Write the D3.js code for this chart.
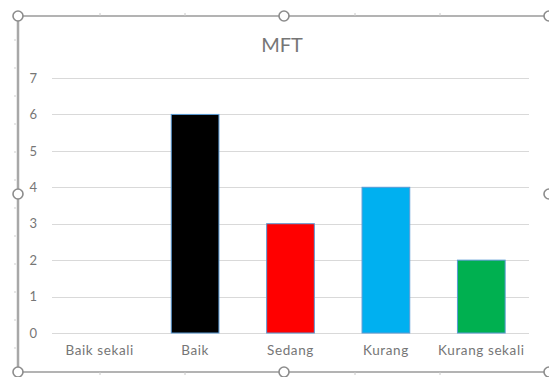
<!DOCTYPE html>
<html>
<head>
<meta charset="utf-8">
<script src="https://cdn.jsdelivr.net/npm/d3@7"></script>
<style>
  html, body { margin: 0; padding: 0; background: #fff; }
  svg { display: block; }
</style>
</head>
<body>
<svg id="chart" width="549" height="377"></svg>
<script>
// Chart data
const categories = ["Baik sekali", "Baik", "Sedang", "Kurang", "Kurang sekali"];
const values = [0, 6, 3, 4, 2];
const barColors = ["#4472c4", "#000000", "#ff0000", "#00b0f0", "#00b050"];
const yTicks = [0, 1, 2, 3, 4, 5, 6, 7];
const title = "MFT";

const svg = d3.select("#chart");
const W = 549, H = 377;
const font = "Lato, Carlito, 'Open Sans', sans-serif";
const textColor = "#767676";

// Plot area
const plot = { left: 52, right: 529, top: 78, bottom: 333 };

const x = d3.scaleBand()
  .domain(categories)
  .range([plot.left, plot.right])
  .paddingInner(0.5)
  .paddingOuter(0.25);

const y = d3.scaleLinear()
  .domain([0, 7])
  .range([plot.bottom, plot.top]);

// Gridlines
svg.append("g")
  .selectAll("line")
  .data(yTicks)
  .join("line")
  .attr("x1", plot.left)
  .attr("x2", plot.right)
  .attr("y1", d => Math.round(y(d)) + 0.5)
  .attr("y2", d => Math.round(y(d)) + 0.5)
  .attr("stroke", "#d9d9d9")
  .attr("stroke-width", 1);

// Y axis labels
const yAxis = d3.axisLeft(y).tickValues(yTicks).tickFormat(d3.format("d")).tickSize(0).tickPadding(0);
const gy = svg.append("g")
  .attr("transform", `translate(${plot.left - 15},0)`)
  .call(yAxis);
gy.select(".domain").remove();
gy.selectAll("text")
  .attr("fill", textColor)
  .attr("font-family", font)
  .attr("font-size", 13);

// X axis labels
const xAxis = d3.axisBottom(x).tickSize(0).tickPadding(0);
const gx = svg.append("g")
  .attr("transform", `translate(0,${plot.bottom + 12})`)
  .call(xAxis);
gx.select(".domain").remove();
gx.selectAll("text")
  .attr("fill", textColor)
  .attr("font-family", font)
  .attr("font-size", 13.5)
  .attr("letter-spacing", 0.6);

// Bars
svg.append("g")
  .selectAll("rect")
  .data(categories.map((c, i) => ({ c, v: values[i], color: barColors[i] })).filter(d => d.v > 0))
  .join("rect")
  .attr("x", d => x(d.c))
  .attr("y", d => y(d.v))
  .attr("width", x.bandwidth())
  .attr("height", d => y(0) - y(d.v))
  .attr("fill", d => d.color)
  .attr("stroke", "#5b9bd5")
  .attr("stroke-width", 1);

// Title
svg.append("text")
  .attr("x", 282)
  .attr("y", 52)
  .attr("text-anchor", "middle")
  .attr("fill", textColor)
  .attr("font-family", font)
  .attr("font-size", 20)
  .text(title);

// Selection frame around the chart object
const frame = svg.append("g");
const fx0 = 18, fy0 = 16, fx1 = 549, fy1 = 372;
frame.append("line").attr("x1", fx0).attr("x2", W).attr("y1", fy0).attr("y2", fy0)
  .attr("stroke", "#9a9a9a").attr("stroke-width", 1.5);
frame.append("line").attr("x1", fx0).attr("x2", W).attr("y1", fy1).attr("y2", fy1)
  .attr("stroke", "#9a9a9a").attr("stroke-width", 1.5);
frame.append("line").attr("x1", fx0).attr("x2", fx0).attr("y1", fy0).attr("y2", fy1)
  .attr("stroke", "#a8a8a8").attr("stroke-width", 2.5);

// Small ruler marks on the frame
const hMarks = [100, 185, 355, 440];
frame.selectAll(".mt").data(hMarks).join("line")
  .attr("x1", d => d).attr("x2", d => d).attr("y1", fy0 - 3).attr("y2", fy0)
  .attr("stroke", "#c8c8c8");
frame.selectAll(".mb").data(hMarks).join("line")
  .attr("x1", d => d).attr("x2", d => d).attr("y1", fy1).attr("y2", fy1 + 3)
  .attr("stroke", "#c8c8c8");
const vMarks = d3.range(40, 365, 28);
frame.selectAll(".ml").data(vMarks).join("line")
  .attr("x1", fx0 - 4).attr("x2", fx0 - 2).attr("y1", d => d).attr("y2", d => d)
  .attr("stroke", "#cfcfcf");

// Resize handles
const handles = [
  [fx0, fy0], [284, fy0], [fx1, fy0],
  [fx0, 194], [fx1, 194],
  [fx0, fy1], [284, fy1], [fx1, fy1]
];
frame.selectAll("circle").data(handles).join("circle")
  .attr("cx", d => d[0]).attr("cy", d => d[1]).attr("r", 5)
  .attr("fill", "#fff").attr("stroke", "#8c8c8c").attr("stroke-width", 1.6);
</script>
</body>
</html>
